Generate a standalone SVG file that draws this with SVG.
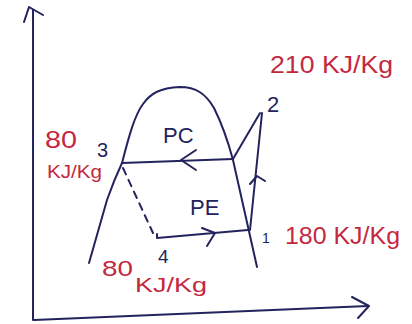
<svg xmlns="http://www.w3.org/2000/svg" width="412" height="324" viewBox="0 0 412 324">
<style>
.ink{fill:none;stroke:#23235e;stroke-width:2;stroke-linecap:round;stroke-linejoin:round}
.dash{stroke-dasharray:7 6}
.lbl{font-family:"Liberation Sans",Arial,sans-serif;fill:#23235e}
.red{font-family:"Liberation Sans",Arial,sans-serif;fill:#c4283e}
</style>
<rect width="412" height="324" fill="#ffffff"/>
<g id="axes">
<path class="ink" d="M33,320 L33,10"/>
<path class="ink" d="M24,22 L29,7 L43,15"/>
<path class="ink" d="M34,320 L368,306"/>
<path class="ink" d="M352,297 L369,306 L358,318"/>
</g>
<g id="dome">
<path class="ink" d="M89,263 L107,200 Q114,180 122,163 C128,140 134,116 143,104 C151,93 160,88 180,87 C196,87 206,94 214,108 C222,124 229,145 233,160 L257,267"/>
</g>
<g id="connectors">
<path class="ink" d="M233,159 L122,163"/>
<path class="ink" d="M196,150 L181,160 L196,170"/>
<path class="ink" d="M233,159 L260,113"/>
<path class="ink" d="M262,113 L250,230"/>
<path class="ink" d="M250,184 L257,176 L265,181"/>
<path class="ink" d="M157,234 L157,238 L248,230"/>
<path class="ink" d="M202,228 L215,233 L207,246"/>
<path class="ink dash" d="M123,168 L153,233"/>
</g>
<g id="node-3">
<text class="lbl" x="97" y="157" font-size="20">3</text>
<text class="red" x="45" y="148" font-size="23" textLength="32" lengthAdjust="spacingAndGlyphs">80</text>
<text class="red" x="47" y="178" font-size="18" textLength="55" lengthAdjust="spacingAndGlyphs">KJ/Kg</text>
</g>
<g id="node-2">
<text class="lbl" x="267" y="112" font-size="22">2</text>
<text class="red" x="270" y="73" font-size="23" textLength="123" lengthAdjust="spacingAndGlyphs">210 KJ/Kg</text>
</g>
<g id="node-1">
<text class="lbl" x="262" y="243" font-size="14">1</text>
<text class="red" x="285" y="244" font-size="23" textLength="115" lengthAdjust="spacingAndGlyphs">180 KJ/Kg</text>
</g>
<g id="node-4">
<text class="lbl" x="158" y="263" font-size="19">4</text>
<text class="red" x="102" y="276" font-size="22" textLength="31" lengthAdjust="spacingAndGlyphs">80</text>
<text class="red" x="135" y="292" font-size="21" textLength="72" lengthAdjust="spacingAndGlyphs">KJ/Kg</text>
</g>
<g id="labels">
<text class="lbl" x="163" y="143" font-size="22">PC</text>
<text class="lbl" x="190" y="215" font-size="22">PE</text>
</g>
</svg>
